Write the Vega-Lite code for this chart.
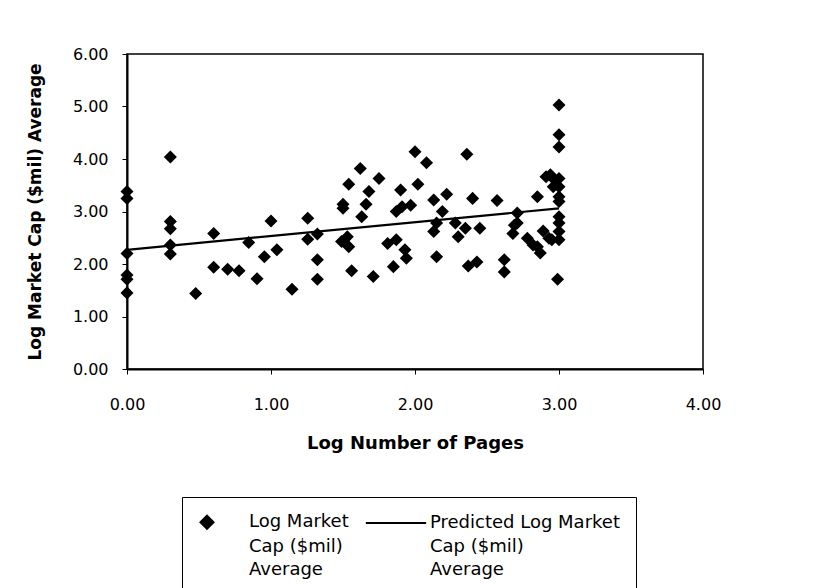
{
  "$schema": "https://vega.github.io/schema/vega-lite/v6.json",
  "width": 576,
  "height": 315,
  "autosize": "none",
  "padding": {"left": 127, "top": 54, "right": 137, "bottom": 219},
  "background": "white",
  "datasets": {
    "obs": [
      {"pages": 0, "cap": 3.38, "series": "Log Market Cap ($mil) Average"},
      {"pages": 0, "cap": 3.25, "series": "Log Market Cap ($mil) Average"},
      {"pages": 0, "cap": 2.2, "series": "Log Market Cap ($mil) Average"},
      {"pages": 0, "cap": 1.79, "series": "Log Market Cap ($mil) Average"},
      {"pages": 0, "cap": 1.71, "series": "Log Market Cap ($mil) Average"},
      {"pages": 0, "cap": 1.45, "series": "Log Market Cap ($mil) Average"},
      {"pages": 0.301, "cap": 4.04, "series": "Log Market Cap ($mil) Average"},
      {"pages": 0.301, "cap": 2.81, "series": "Log Market Cap ($mil) Average"},
      {"pages": 0.301, "cap": 2.67, "series": "Log Market Cap ($mil) Average"},
      {"pages": 0.301, "cap": 2.36, "series": "Log Market Cap ($mil) Average"},
      {"pages": 0.301, "cap": 2.19, "series": "Log Market Cap ($mil) Average"},
      {"pages": 0.477, "cap": 1.44, "series": "Log Market Cap ($mil) Average"},
      {"pages": 0.602, "cap": 2.58, "series": "Log Market Cap ($mil) Average"},
      {"pages": 0.602, "cap": 1.94, "series": "Log Market Cap ($mil) Average"},
      {"pages": 0.699, "cap": 1.9, "series": "Log Market Cap ($mil) Average"},
      {"pages": 0.778, "cap": 1.87, "series": "Log Market Cap ($mil) Average"},
      {"pages": 0.845, "cap": 2.41, "series": "Log Market Cap ($mil) Average"},
      {"pages": 0.903, "cap": 1.72, "series": "Log Market Cap ($mil) Average"},
      {"pages": 0.954, "cap": 2.14, "series": "Log Market Cap ($mil) Average"},
      {"pages": 1.0, "cap": 2.82, "series": "Log Market Cap ($mil) Average"},
      {"pages": 1.041, "cap": 2.27, "series": "Log Market Cap ($mil) Average"},
      {"pages": 1.146, "cap": 1.52, "series": "Log Market Cap ($mil) Average"},
      {"pages": 1.255, "cap": 2.87, "series": "Log Market Cap ($mil) Average"},
      {"pages": 1.255, "cap": 2.47, "series": "Log Market Cap ($mil) Average"},
      {"pages": 1.322, "cap": 2.57, "series": "Log Market Cap ($mil) Average"},
      {"pages": 1.322, "cap": 2.08, "series": "Log Market Cap ($mil) Average"},
      {"pages": 1.322, "cap": 1.71, "series": "Log Market Cap ($mil) Average"},
      {"pages": 1.5, "cap": 3.14, "series": "Log Market Cap ($mil) Average"},
      {"pages": 1.5, "cap": 3.06, "series": "Log Market Cap ($mil) Average"},
      {"pages": 1.49, "cap": 2.43, "series": "Log Market Cap ($mil) Average"},
      {"pages": 1.53, "cap": 2.52, "series": "Log Market Cap ($mil) Average"},
      {"pages": 1.54, "cap": 3.52, "series": "Log Market Cap ($mil) Average"},
      {"pages": 1.54, "cap": 2.33, "series": "Log Market Cap ($mil) Average"},
      {"pages": 1.56, "cap": 1.87, "series": "Log Market Cap ($mil) Average"},
      {"pages": 1.62, "cap": 3.82, "series": "Log Market Cap ($mil) Average"},
      {"pages": 1.63, "cap": 2.9, "series": "Log Market Cap ($mil) Average"},
      {"pages": 1.66, "cap": 3.14, "series": "Log Market Cap ($mil) Average"},
      {"pages": 1.68, "cap": 3.38, "series": "Log Market Cap ($mil) Average"},
      {"pages": 1.71, "cap": 1.76, "series": "Log Market Cap ($mil) Average"},
      {"pages": 1.75, "cap": 3.63, "series": "Log Market Cap ($mil) Average"},
      {"pages": 1.81, "cap": 2.39, "series": "Log Market Cap ($mil) Average"},
      {"pages": 1.85, "cap": 1.95, "series": "Log Market Cap ($mil) Average"},
      {"pages": 1.87, "cap": 3.0, "series": "Log Market Cap ($mil) Average"},
      {"pages": 1.87, "cap": 2.46, "series": "Log Market Cap ($mil) Average"},
      {"pages": 1.9, "cap": 3.41, "series": "Log Market Cap ($mil) Average"},
      {"pages": 1.91, "cap": 3.09, "series": "Log Market Cap ($mil) Average"},
      {"pages": 1.93, "cap": 2.27, "series": "Log Market Cap ($mil) Average"},
      {"pages": 1.94, "cap": 2.11, "series": "Log Market Cap ($mil) Average"},
      {"pages": 1.97, "cap": 3.12, "series": "Log Market Cap ($mil) Average"},
      {"pages": 2.0, "cap": 4.14, "series": "Log Market Cap ($mil) Average"},
      {"pages": 2.02, "cap": 3.52, "series": "Log Market Cap ($mil) Average"},
      {"pages": 2.08, "cap": 3.93, "series": "Log Market Cap ($mil) Average"},
      {"pages": 2.13, "cap": 3.22, "series": "Log Market Cap ($mil) Average"},
      {"pages": 2.13, "cap": 2.62, "series": "Log Market Cap ($mil) Average"},
      {"pages": 2.15, "cap": 2.78, "series": "Log Market Cap ($mil) Average"},
      {"pages": 2.15, "cap": 2.14, "series": "Log Market Cap ($mil) Average"},
      {"pages": 2.19, "cap": 3.0, "series": "Log Market Cap ($mil) Average"},
      {"pages": 2.22, "cap": 3.33, "series": "Log Market Cap ($mil) Average"},
      {"pages": 2.28, "cap": 2.78, "series": "Log Market Cap ($mil) Average"},
      {"pages": 2.3, "cap": 2.52, "series": "Log Market Cap ($mil) Average"},
      {"pages": 2.35, "cap": 2.68, "series": "Log Market Cap ($mil) Average"},
      {"pages": 2.36, "cap": 4.09, "series": "Log Market Cap ($mil) Average"},
      {"pages": 2.37, "cap": 1.96, "series": "Log Market Cap ($mil) Average"},
      {"pages": 2.4, "cap": 3.25, "series": "Log Market Cap ($mil) Average"},
      {"pages": 2.43, "cap": 2.04, "series": "Log Market Cap ($mil) Average"},
      {"pages": 2.45, "cap": 2.68, "series": "Log Market Cap ($mil) Average"},
      {"pages": 2.57, "cap": 3.21, "series": "Log Market Cap ($mil) Average"},
      {"pages": 2.62, "cap": 2.08, "series": "Log Market Cap ($mil) Average"},
      {"pages": 2.62, "cap": 1.85, "series": "Log Market Cap ($mil) Average"},
      {"pages": 2.68, "cap": 2.58, "series": "Log Market Cap ($mil) Average"},
      {"pages": 2.69, "cap": 2.74, "series": "Log Market Cap ($mil) Average"},
      {"pages": 2.71, "cap": 2.97, "series": "Log Market Cap ($mil) Average"},
      {"pages": 2.71, "cap": 2.78, "series": "Log Market Cap ($mil) Average"},
      {"pages": 2.78, "cap": 2.49, "series": "Log Market Cap ($mil) Average"},
      {"pages": 2.82, "cap": 2.36, "series": "Log Market Cap ($mil) Average"},
      {"pages": 2.85, "cap": 3.28, "series": "Log Market Cap ($mil) Average"},
      {"pages": 2.85, "cap": 2.33, "series": "Log Market Cap ($mil) Average"},
      {"pages": 2.87, "cap": 2.21, "series": "Log Market Cap ($mil) Average"},
      {"pages": 2.89, "cap": 2.63, "series": "Log Market Cap ($mil) Average"},
      {"pages": 2.91, "cap": 3.66, "series": "Log Market Cap ($mil) Average"},
      {"pages": 2.93, "cap": 2.49, "series": "Log Market Cap ($mil) Average"},
      {"pages": 2.94, "cap": 3.7, "series": "Log Market Cap ($mil) Average"},
      {"pages": 2.95, "cap": 2.46, "series": "Log Market Cap ($mil) Average"},
      {"pages": 2.96, "cap": 3.47, "series": "Log Market Cap ($mil) Average"},
      {"pages": 2.97, "cap": 3.6, "series": "Log Market Cap ($mil) Average"},
      {"pages": 2.99, "cap": 1.71, "series": "Log Market Cap ($mil) Average"},
      {"pages": 3.0, "cap": 5.03, "series": "Log Market Cap ($mil) Average"},
      {"pages": 3.0, "cap": 4.46, "series": "Log Market Cap ($mil) Average"},
      {"pages": 3.0, "cap": 4.23, "series": "Log Market Cap ($mil) Average"},
      {"pages": 3.0, "cap": 3.63, "series": "Log Market Cap ($mil) Average"},
      {"pages": 3.0, "cap": 3.47, "series": "Log Market Cap ($mil) Average"},
      {"pages": 3.0, "cap": 3.28, "series": "Log Market Cap ($mil) Average"},
      {"pages": 3.0, "cap": 3.19, "series": "Log Market Cap ($mil) Average"},
      {"pages": 3.0, "cap": 2.9, "series": "Log Market Cap ($mil) Average"},
      {"pages": 3.0, "cap": 2.78, "series": "Log Market Cap ($mil) Average"},
      {"pages": 3.0, "cap": 2.62, "series": "Log Market Cap ($mil) Average"},
      {"pages": 3.0, "cap": 2.46, "series": "Log Market Cap ($mil) Average"}
    ],
    "fit": [
      {"pages": 0, "pred": 2.27},
      {"pages": 3.0, "pred": 3.06}
    ]
  },
  "layer": [
    {
      "data": {"name": "fit"},
      "mark": {"type": "line", "color": "black", "strokeWidth": 2.2},
      "encoding": {
        "x": {"field": "pages", "type": "quantitative"},
        "y": {"field": "pred", "type": "quantitative"}
      }
    },
    {
      "data": {"name": "obs"},
      "mark": {"type": "point", "filled": true, "opacity": 1, "size": 170},
      "encoding": {
        "x": {
          "field": "pages", "type": "quantitative",
          "scale": {"domain": [0, 4], "nice": false, "zero": false},
          "axis": {"values": [0, 1, 2, 3, 4], "format": ".2f", "title": "Log Number of Pages", "labelFlush": false}
        },
        "y": {
          "field": "cap", "type": "quantitative",
          "scale": {"domain": [0, 6], "nice": false},
          "axis": {"values": [0, 1, 2, 3, 4, 5, 6], "format": ".2f", "title": "Log Market Cap ($mil) Average", "labelFlush": false}
        },
        "color": {
          "field": "series", "type": "nominal",
          "scale": {
            "domain": ["Log Market Cap ($mil) Average", "Predicted Log Market Cap ($mil) Average", "Log Market Cap ($mil) Average, line 2", "Predicted Log Market Cap ($mil) Average, line 2", "Log Market Cap ($mil) Average, line 3", "Predicted Log Market Cap ($mil) Average, line 3"],
            "range": ["black", "black", "black", "black", "black", "black"]
          },
          "legend": {
            "title": null,
            "orient": "none",
            "legendX": 55,
            "legendY": 443,
            "direction": "horizontal",
            "columns": 2,
            "strokeColor": "black",
            "padding": 16,
            "columnPadding": 12,
            "rowPadding": 5,
            "labelFont": "DejaVu Sans",
            "labelFontSize": 18,
            "labelColor": "black",
            "labelLimit": 300,
            "labelOffset": 33,
            "symbolSize": 170,
            "symbolStrokeColor": "black",
            "symbolStrokeWidth": 2,
            "labelExpr": "indexof(datum.value, 'line 2') >= 0 ? 'Cap ($mil)' : indexof(datum.value, 'line 3') >= 0 ? 'Average' : indexof(datum.value, 'Predicted') == 0 ? 'Predicted Log Market' : 'Log Market'"
          }
        },
        "shape": {
          "field": "series", "type": "nominal",
          "scale": {
            "domain": ["Log Market Cap ($mil) Average", "Predicted Log Market Cap ($mil) Average", "Log Market Cap ($mil) Average, line 2", "Predicted Log Market Cap ($mil) Average, line 2", "Log Market Cap ($mil) Average, line 3", "Predicted Log Market Cap ($mil) Average, line 3"],
            "range": ["diamond", "M-3.4,0H5.85", "M0,0", "M0,0", "M0,0", "M0,0"]
          }
        }
      }
    }
  ],
  "config": {
    "view": {"stroke": "black", "strokeWidth": 1.5},
    "axis": {
      "grid": false,
      "domainColor": "black",
      "domainWidth": 2,
      "tickColor": "black",
      "tickSize": 5,
      "labelFont": "DejaVu Sans",
      "labelFontSize": 16,
      "labelColor": "black",
      "titleFont": "DejaVu Sans",
      "titleFontWeight": "bold",
      "titleFontSize": 17,
      "titleColor": "black"
    },
    "axisX": {"labelPadding": 22, "titlePadding": 22, "titleFontSize": 18},
    "axisY": {"labelPadding": 14, "titlePadding": 28}
  }
}
